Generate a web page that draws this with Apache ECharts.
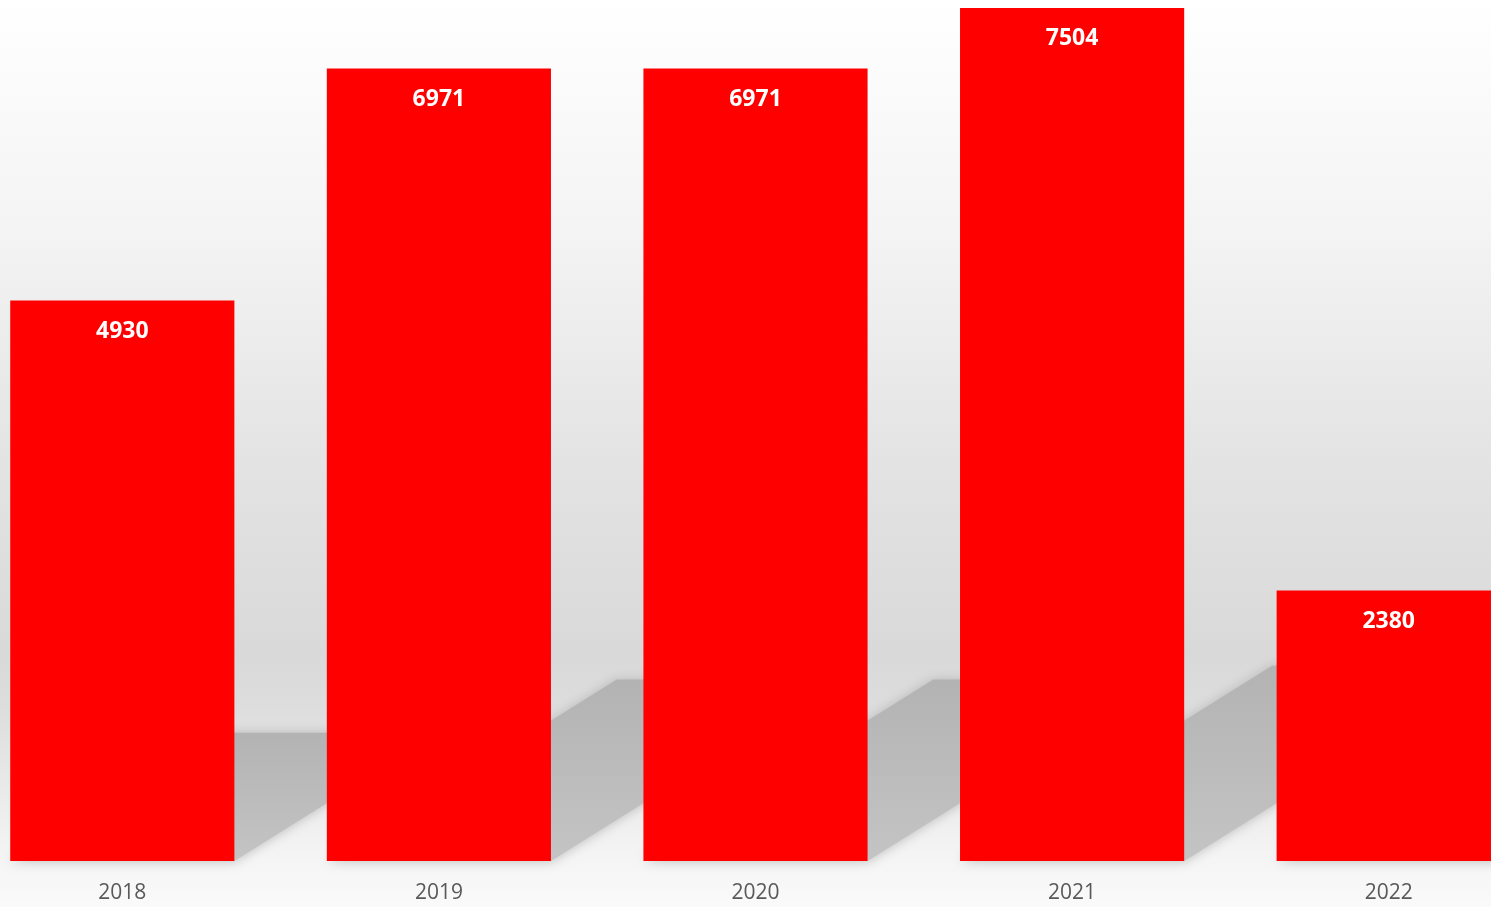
<!DOCTYPE html>
<html>
<head>
<meta charset="utf-8">
<script src="https://cdn.jsdelivr.net/npm/echarts@6/dist/echarts.min.js"></script>
<style>
html,body{margin:0;padding:0;width:1491px;height:907px;overflow:hidden;background:#fff;position:relative;}
#chart{position:absolute;left:-36px;top:0;width:1583px;height:907px;}
</style>
</head>
<body>
<div id="chart"></div>
<script>
var years = ['2018', '2019', '2020', '2021', '2022'];
var values = [4930, 6971, 6971, 7504, 2380];

var chart = echarts.init(document.getElementById('chart'));
var BAR_RATIO = 0.708;

function renderShadow(params, api) {
  var idx = api.value(0);
  var val = api.value(1);
  var base = api.coord([idx, 0]);
  var top = api.coord([idx, val]);
  var band = api.size([1, 0])[0];
  var w = band * BAR_RATIO;
  var x0 = base[0] - w / 2, x1 = base[0] + w / 2, y0 = base[1];
  var h = y0 - top[1];
  var dy = h * 0.229;
  var dx = dy / 0.626;
  return {
    type: 'polygon',
    shape: { points: [[x0, y0], [x1, y0], [x1 + dx, y0 - dy], [x0 + dx, y0 - dy]] },
    style: {
      fill: { type: 'linear', x: 0, y: 0, x2: 0, y2: 1,
        colorStops: [{ offset: 0, color: '#b3b3b3' }, { offset: 1, color: '#c4c4c4' }] },
      shadowBlur: 12,
      shadowColor: 'rgba(180,180,180,0.9)'
    }
  };
}

chart.setOption({
  animation: false,
  backgroundColor: {
    type: 'linear', x: 0, y: 0, x2: 0, y2: 1,
    colorStops: [
      { offset: 0, color: '#ffffff' },
      { offset: 0.25, color: '#f4f4f4' },
      { offset: 0.5, color: '#e4e4e4' },
      { offset: 0.72, color: '#d9d9d9' },
      { offset: 0.78, color: '#dddddd' },
      { offset: 0.95, color: '#f5f5f5' },
      { offset: 1, color: '#fafafa' }
    ]
  },
  grid: { left: 0, right: 0, top: 8, bottom: 46, containLabel: false },
  xAxis: {
    type: 'category',
    data: years,
    axisLine: { show: false },
    axisTick: { show: false },
    axisLabel: { color: '#595959', fontSize: 21, fontFamily: 'Open Sans', margin: 22 }
  },
  yAxis: {
    type: 'value', min: 0, max: 7504, show: false,
    splitLine: { show: false }
  },
  series: [
    {
      type: 'custom',
      renderItem: renderShadow,
      data: values.map(function (v, i) { return [i, v]; }),
      encode: { x: 0, y: 1 },
      z: 1,
      silent: true,
      clip: false
    },
    {
      type: 'bar',
      data: values,
      barWidth: (BAR_RATIO * 100) + '%',
      itemStyle: { color: '#ff0000' },
      z: 2,
      label: {
        show: true,
        position: 'insideTop',
        distance: 19,
        color: '#ffffff',
        fontSize: 23,
        fontWeight: 'bold',
        fontFamily: 'Open Sans'
      }
    }
  ]
});
</script>
</body>
</html>
